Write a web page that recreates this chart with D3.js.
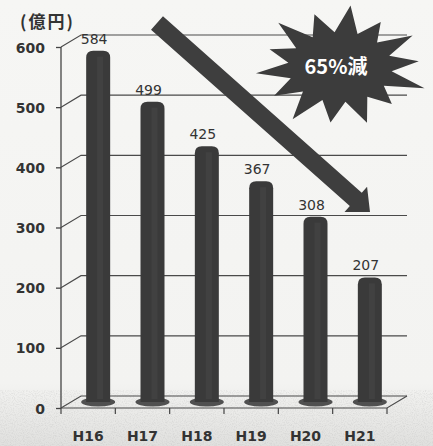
<!DOCTYPE html>
<html><head><meta charset="utf-8">
<script src="https://cdn.jsdelivr.net/npm/d3@7"></script>
<style>
html,body{margin:0;padding:0;background:#f6f6f4;}
svg{display:block;}
</style></head>
<body>
<script>
const categories = ["H16","H17","H18","H19","H20","H21"];
const values = [584, 499, 425, 367, 308, 207];
const yTicks = [0, 100, 200, 300, 400, 500, 600];
const unitLabel = "(億円)";
const calloutText = "65%減";

const W = 433, H = 446;
const DX = 20, DY = -12;   // depth offset of the pseudo-3D back wall
const ink = "#3a3a3a";
const numFont = "'DejaVu Sans', Lato, sans-serif";

const svg = d3.select("body").append("svg").attr("width", W).attr("height", H);
const defs = svg.append("defs");
const grad = defs.append("linearGradient").attr("id","bg").attr("x1",0).attr("y1",0).attr("x2",0).attr("y2",1);
grad.append("stop").attr("offset","0").attr("stop-color","#f6f6f4");
grad.append("stop").attr("offset","0.86").attr("stop-color","#f3f3f1");
grad.append("stop").attr("offset","1").attr("stop-color","#e0e0de");
const f = defs.append("filter").attr("id","noise").attr("x",0).attr("y",0).attr("width","100%").attr("height","100%");
f.append("feTurbulence").attr("type","fractalNoise").attr("baseFrequency","0.9").attr("numOctaves",2).attr("seed",3).attr("result","t");
f.append("feColorMatrix").attr("type","matrix")
  .attr("values","0 0 0 0 0.45  0 0 0 0 0.45  0 0 0 0 0.45  0 0 0 -2.2 1.25");

svg.append("rect").attr("width",W).attr("height",H).attr("fill","url(#bg)");
svg.append("rect").attr("x",0).attr("y",390).attr("width",W).attr("height",56)
  .attr("filter","url(#noise)").attr("opacity",0.3);

const x = d3.scaleBand().domain(categories).range([61, 387]).paddingInner(0).paddingOuter(0);
const y = d3.scaleLinear().domain([0, 600]).range([408, 47]);

// gridlines with perspective
const grid = svg.append("g").attr("stroke","#4a4a4a").attr("stroke-width",1.1).attr("fill","none");
yTicks.forEach(t => {
  grid.append("path").attr("d",
    `M${x.range()[0]},${y(t)} L${x.range()[0]+DX},${y(t)+DY} L${x.range()[1]+DX},${y(t)+DY}`);
});
// floor
grid.append("path").attr("d",
  `M${x.range()[0]},${y(0)} L${x.range()[1]},${y(0)} L${x.range()[1]+DX},${y(0)+DY}`);

// Y axis
const yAxis = svg.append("g").attr("transform",`translate(${x.range()[0]},0)`)
  .call(d3.axisLeft(y).tickValues(yTicks).tickSize(5).tickPadding(11).tickFormat(d3.format("d")));
yAxis.select(".domain").attr("stroke","#444").attr("stroke-width",1.3).attr("d",`M0,${y(600)}V${y(0)}`);
yAxis.selectAll(".tick line").attr("stroke","#444").attr("stroke-width",1.3);
yAxis.selectAll(".tick text").attr("fill","#333").style("font-family",numFont)
  .style("font-size","14px").style("font-weight","bold").attr("dy","0.36em");

// X axis
const xAxis = svg.append("g").attr("transform",`translate(0,${y(0)})`)
  .call(d3.axisBottom(x).tickSize(0).tickPadding(23));
xAxis.select(".domain").remove();
xAxis.selectAll(".tick text").attr("fill","#333").style("font-family",numFont)
  .style("font-size","14px").style("font-weight","bold");
const bounds = categories.map(c => x(c)).concat([x.range()[1]]);
svg.append("g").selectAll("line").data(bounds).join("line")
  .attr("x1",d=>d).attr("x2",d=>d).attr("y1",y(0)).attr("y2",y(0)+6)
  .attr("stroke","#444").attr("stroke-width",1.2);

// bars (cylinders)
const bw = 24;
const cx = c => x(c) + x.bandwidth()/2 + DX/2;
const bars = svg.append("g");
bars.selectAll("ellipse").data(categories).join("ellipse")
  .attr("cx", c => cx(c)).attr("cy", y(0)+DY/2).attr("rx", 17).attr("ry", 4.5)
  .attr("fill","#505050");
bars.selectAll("path.bar").data(values).join("path").attr("class","bar")
  .attr("d",(v,i) => {
    const c = categories[i], x0 = cx(c)-bw/2, top = y(v)+DY/2, bot = y(0)+DY/2, r = 7;
    return `M${x0},${bot} V${top+r} Q${x0},${top} ${x0+r},${top} H${x0+bw-r} Q${x0+bw},${top} ${x0+bw},${top+r} V${bot} Z`;
  })
  .attr("fill", ink);
bars.selectAll("line.hl").data(values).join("line").attr("class","hl")
  .attr("x1",(v,i)=>cx(categories[i])+2).attr("x2",(v,i)=>cx(categories[i])+2)
  .attr("y1",v=>y(v)+DY/2+6).attr("y2",y(0)+DY/2-3)
  .attr("stroke","#474747").attr("stroke-width",6).attr("opacity",0.6);

// value labels
svg.append("g").selectAll("text").data(values).join("text")
  .attr("x",(v,i)=>cx(categories[i])-4).attr("y",v=>y(v)+DY/2-7)
  .attr("text-anchor","middle").attr("fill","#333")
  .style("font-family",numFont).style("font-size","14px")
  .text(v=>v);

// unit label
svg.append("text").attr("x",20).attr("y",28).attr("fill","#333")
  .style("font-family","'Noto Sans CJK JP', sans-serif").style("font-size","17px").style("font-weight","bold")
  .style("letter-spacing","2px").text(unitLabel);

// big downward arrow
const sx = 157, sy = 23, tx = 370, ty = 212;
const L = Math.hypot(tx-sx, ty-sy), ang = Math.atan2(ty-sy, tx-sx)*180/Math.PI;
const hw = 9, hh = 17, hl = 19;
svg.append("path")
  .attr("transform",`translate(${sx},${sy}) rotate(${ang})`)
  .attr("d",`M0,${-hw} L${L-hl},${-hw} L${L-hl},${-hh} L${L},0 L${L-hl},${hh} L${L-hl},${hw} L0,${hw} Z`)
  .attr("fill","#3e3e3e");

// starburst callout
const scx = 340, scy = 67;
const spikes = [1.0,0.86,0.97,0.9,1.02,0.84,0.95,0.9,1.0,0.88,0.96,0.85,1.0,0.9];
const n = spikes.length;
const pts = [];
spikes.forEach((s,i) => {
  const a0 = (i/n)*2*Math.PI - Math.PI/2 + 0.12;
  const a1 = ((i+0.5)/n)*2*Math.PI - Math.PI/2 + 0.12;
  pts.push([scx + Math.cos(a0)*88*s, scy + Math.sin(a0)*62*s]);
  pts.push([scx + Math.cos(a1)*52, scy + Math.sin(a1)*35]);
});
svg.append("path").attr("d", d3.line()(pts)+"Z").attr("fill","#3c3c3c");
svg.append("text").attr("x",scx-4).attr("y",scy+7).attr("text-anchor","middle")
  .attr("fill","#fff").style("font-family","'Noto Sans CJK JP', sans-serif")
  .style("font-size","20px").style("font-weight","bold")
  .text(calloutText);
</script>
</body></html>
